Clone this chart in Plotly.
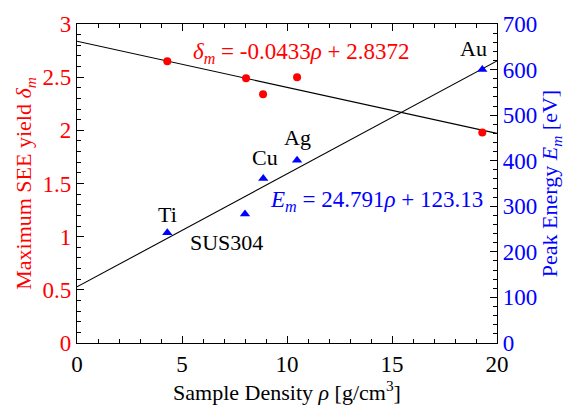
import plotly.graph_objects as go

# Data
density_red = [4.3, 8.05, 8.86, 10.48, 19.3]
see_yield = [2.65, 2.49, 2.34, 2.50, 1.98]
density_blue = [4.3, 8.0, 8.87, 10.48, 19.3]
peak_energy = [242, 283, 361, 401, 600]
materials = ["Ti", "SUS304", "Cu", "Ag", "Au"]
label_x = [4.29, 7.1, 8.95, 10.5, 18.9]
label_y = [283, 220, 408, 450, 646]
fit_x = [0, 20]
yield_slope, yield_icpt = -0.0433, 2.8372
energy_slope, energy_icpt = 24.791, 123.13

FONT = "Liberation Serif, Times New Roman, serif"
RED = "#ff0000"
BLUE = "#0000ff"

fig = go.Figure()
fig.add_trace(go.Scatter(x=fit_x, y=[yield_icpt + yield_slope * v for v in fit_x],
                         mode="lines", line=dict(color="black", width=1.1), yaxis="y", showlegend=False))
fig.add_trace(go.Scatter(x=fit_x, y=[energy_icpt + energy_slope * v for v in fit_x],
                         mode="lines", line=dict(color="black", width=1.1), yaxis="y2", showlegend=False))
fig.add_trace(go.Scatter(x=density_red, y=see_yield, mode="markers",
                         marker=dict(color=RED, size=8, symbol="circle"), yaxis="y", showlegend=False))
fig.add_trace(go.Scatter(x=density_blue, y=peak_energy, mode="markers",
                         marker=dict(color=BLUE, size=9, symbol="triangle-up"), yaxis="y2", showlegend=False))

annotations = []
for name, lx, ly in zip(materials, label_x, label_y):
    annotations.append(dict(x=lx, y=ly, xref="x", yref="y2", text=name, showarrow=False,
                            font=dict(family=FONT, size=22, color="black")))
annotations.append(dict(x=10.7, y=2.73, xref="x", yref="y",
                        text="<i>δ<sub>m</sub></i> = -0.0433<i>ρ</i> + 2.8372", showarrow=False,
                        font=dict(family=FONT, size=23, color=RED)))
annotations.append(dict(x=14.24, y=311, xref="x", yref="y2",
                        text="<i>E<sub>m</sub></i> = 24.791<i>ρ</i> + 123.13", showarrow=False,
                        font=dict(family=FONT, size=23, color=BLUE)))

fig.update_layout(
    width=574, height=408,
    margin=dict(l=77, r=77, t=16, b=65),
    paper_bgcolor="white", plot_bgcolor="white",
    font=dict(family=FONT, size=23, color="black"),
    annotations=annotations,
    xaxis=dict(range=[0, 20], dtick=5, ticks="inside", ticklen=7, tickwidth=1, tickcolor="black",
               showline=True, linecolor="black", linewidth=1.2, mirror="ticks", showgrid=False,
               zeroline=False, tickfont=dict(family=FONT, size=23, color="black"),
               minor=dict(dtick=1, ticks="inside", ticklen=4, tickcolor="black", showgrid=False),
               title=dict(text="Sample Density <i>ρ</i> [g/cm<sup>3</sup>]", font=dict(family=FONT, size=22), standoff=4)),
    yaxis=dict(range=[0, 3], dtick=0.5, ticks="inside", ticklen=7, tickcolor="black",
               showline=True, linecolor="black", linewidth=1.2, showgrid=False, zeroline=False,
               tickfont=dict(family=FONT, size=23, color=RED),
               minor=dict(dtick=0.1, ticks="inside", ticklen=4, tickcolor="black", showgrid=False),
               title=dict(text="Maximum SEE yield <i>δ<sub>m</sub></i>", font=dict(family=FONT, size=22, color=RED), standoff=4)),
    yaxis2=dict(range=[0, 700], dtick=100, ticks="inside", ticklen=7, tickcolor="black",
                overlaying="y", side="right",
                showline=True, linecolor="black", linewidth=1.2, showgrid=False, zeroline=False,
                tickfont=dict(family=FONT, size=23, color=BLUE),
                minor=dict(dtick=20, ticks="inside", ticklen=4, tickcolor="black", showgrid=False),
                title=dict(text="Peak Energy <i>E<sub>m</sub></i> [eV]", font=dict(family=FONT, size=22, color=BLUE), standoff=4)),
)

fig.write_html("out.html")
